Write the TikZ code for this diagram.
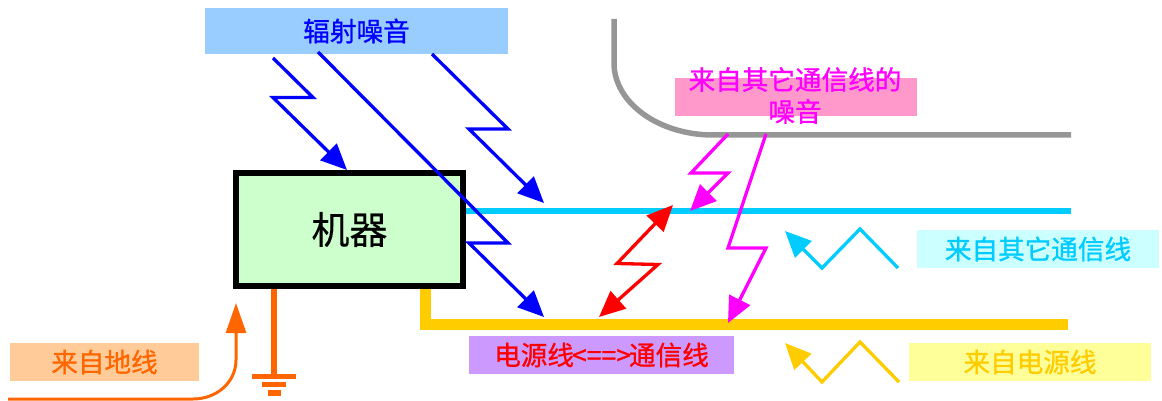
\documentclass[tikz,border=0pt]{standalone}
\usepackage{fontspec}
\setmainfont[FakeBold=1.0]{Noto Sans CJK SC}
\newfontfamily\plainfont[FakeBold=0.3]{Noto Sans CJK SC}
\usetikzlibrary{arrows.meta}
\definecolor{cblue}{HTML}{0000FF}
\definecolor{cblox}{HTML}{99CCFF}
\definecolor{cmag}{HTML}{FF00FF}
\definecolor{cpink}{HTML}{FF99CC}
\definecolor{ccyan}{HTML}{00CCFF}
\definecolor{ccybox}{HTML}{CCFFFF}
\definecolor{cyel}{HTML}{FFCC00}
\definecolor{cyelbox}{HTML}{FFFF99}
\definecolor{corg}{HTML}{FF6600}
\definecolor{corgbox}{HTML}{FFCC99}
\definecolor{cpur}{HTML}{CC99FF}
\definecolor{cgrn}{HTML}{CCFFCC}
\definecolor{cgray}{HTML}{969696}
\newcommand\rsup[1]{\raisebox{2pt}{#1}}
\tikzset{
  x=1pt,y=-1pt,
  lbl/.style={inner sep=0pt,outer sep=0pt,minimum height=38pt,font=\fontsize{26.6}{32}\selectfont,anchor=north west},
  bolt/.style={line width=3.3pt,miter limit=10,-{Triangle[length=26pt,width=23pt]}},
  boltb/.style={line width=3.3pt,miter limit=10,{Triangle[length=26pt,width=23pt]}-{Triangle[length=26pt,width=23pt]}},
  wave/.style={line width=3.3pt,miter limit=10,-{Triangle[length=26pt,width=23pt]}},
}
\begin{document}
\begin{tikzpicture}
\useasboundingbox (0,0) rectangle (1162,401);
% boxes
\node[lbl,fill=cblox,text=cblue,minimum width=303pt,minimum height=46pt] (rad) at (205,8) {\rsup{辐射噪音}};
\node[lbl,fill=cpink,minimum width=242pt] (pink) at (675,78) {};
\node[lbl,fill=ccybox,text=ccyan,minimum width=242pt] (cy) at (917,230) {\rsup{来自其它通信线}};
\node[lbl,fill=cyelbox,text=cyel,minimum width=242pt] (ye) at (909,343) {\rsup{来自电源线}};
\node[lbl,fill=corgbox,text=corg,minimum width=189pt] (og) at (10,343) {\rsup{来自地线}};
\node[lbl,fill=cpur,text=red,minimum width=265pt] (pu) at (469,336) {\rsup{电源线\kern-2pt<==>\kern-2pt通信线}};
% lines
\coordinate (cyE) at (1071,211);
\coordinate (ylA) at (425.5,289);
\coordinate (ylB) at (425.5,324.5);
\coordinate (ylE) at (1068,324.5);
\coordinate (gyA) at (614,19);
\coordinate (gyB) at (614,63);
\coordinate (gyC) at (713,135);
\coordinate (gyE) at (1071,135);
\node[draw=black,line width=6pt,fill=cgrn,outer sep=0pt,minimum width=227pt,minimum height=113pt,inner sep=0pt,anchor=north west,font=\plainfont\fontsize{38}{40}\selectfont] (mc) at (236,173) {\raisebox{3pt}{机器}};
\draw[ccyan,line width=5.5pt] ([xshift=3pt]mc.east |- cyE) -- (cyE);
\draw[cyel,line width=11pt] (ylA) -- (ylB) -- ++(-5.5,0) (ylB) -- (ylE);
\draw[cgray,line width=5.5pt] (gyA) -- (gyB) .. controls (614,103) and (659,135) .. (gyC) -- (gyE);
% ground
\coordinate (gA) at (274,289);
\coordinate (gB) at (274,376.5);
\coordinate (g1a) at (252,376.5); \coordinate (g1b) at (296,376.5);
\coordinate (g2a) at (262,384.5); \coordinate (g2b) at (286,384.5);
\coordinate (g3a) at (268,393); \coordinate (g3b) at (281,393);
\draw[corg,line width=6pt] (gA) -- (gB);
\draw[corg,line width=5.5pt] (g1a) -- (g1b) (g2a) -- (g2b) (g3a) -- (g3b);
% orange arrow
\coordinate (oA) at (8,399);
\coordinate (oB) at (193,399);
\coordinate (oC) at (236,360);
\coordinate (oD) at (236,303);
\draw[corg,line width=3pt,-{Triangle[length=30pt,width=20pt]}] (oA) -- (oB) .. controls (217,399) and (236,382) .. (oC) -- (oD);
% blue bolts
\coordinate (a1) at (273,58); \coordinate (a2) at (313,97.5); \coordinate (a3) at (273,97.5); \coordinate (a4) at (347,170);
\coordinate (b1) at (318,52); \coordinate (b2) at (508,243); \coordinate (b3) at (469,243); \coordinate (b4) at (544,317);
\coordinate (c1) at (432,54); \coordinate (c2) at (508,129); \coordinate (c3) at (469,129); \coordinate (c4) at (544,203);
\draw[cblue,bolt] (a1) -- (a2) -- (a3) -- (a4);
\draw[cblue,bolt] (b1) -- (b2) -- (b3) -- (b4);
\draw[cblue,bolt] (c1) -- (c2) -- (c3) -- (c4);
% magenta bolts
\coordinate (d1) at (728,134); \coordinate (d2) at (691,173); \coordinate (d3) at (728,173); \coordinate (d4) at (690,211);
\coordinate (e1) at (766,134); \coordinate (e2) at (728,248); \coordinate (e3) at (766,248); \coordinate (e4) at (728,323);
\draw[cmag,bolt] (d1) -- (d2) -- (d3) -- (d4);
\draw[cmag,bolt] (e1) -- (e2) -- (e3) -- (e4);
% red bolt
\coordinate (f1) at (673,205); \coordinate (f2) at (617,263.5); \coordinate (f3) at (658,264.5); \coordinate (f4) at (599,317);
\draw[red,boltb] (f1) -- (f2) -- (f3) -- (f4);
% zigzags
\coordinate (h1) at (898,268); \coordinate (h2) at (860,229); \coordinate (h3) at (822,268); \coordinate (h4) at (785,231);
\coordinate (i1) at (899,382); \coordinate (i2) at (860,342); \coordinate (i3) at (822,382); \coordinate (i4) at (785,343);
\draw[ccyan,wave] (h1) -- (h2) -- (h3) -- (h4);
\draw[cyel,wave] (i1) -- (i2) -- (i3) -- (i4);
% overflowing text of the pink box
\node[text=cmag,align=center,inner sep=0pt,font=\fontsize{26.6}{32}\selectfont] (pinktxt) at (795,95.5) {来自其它通信线的\\噪音};
\end{tikzpicture}
\end{document}
